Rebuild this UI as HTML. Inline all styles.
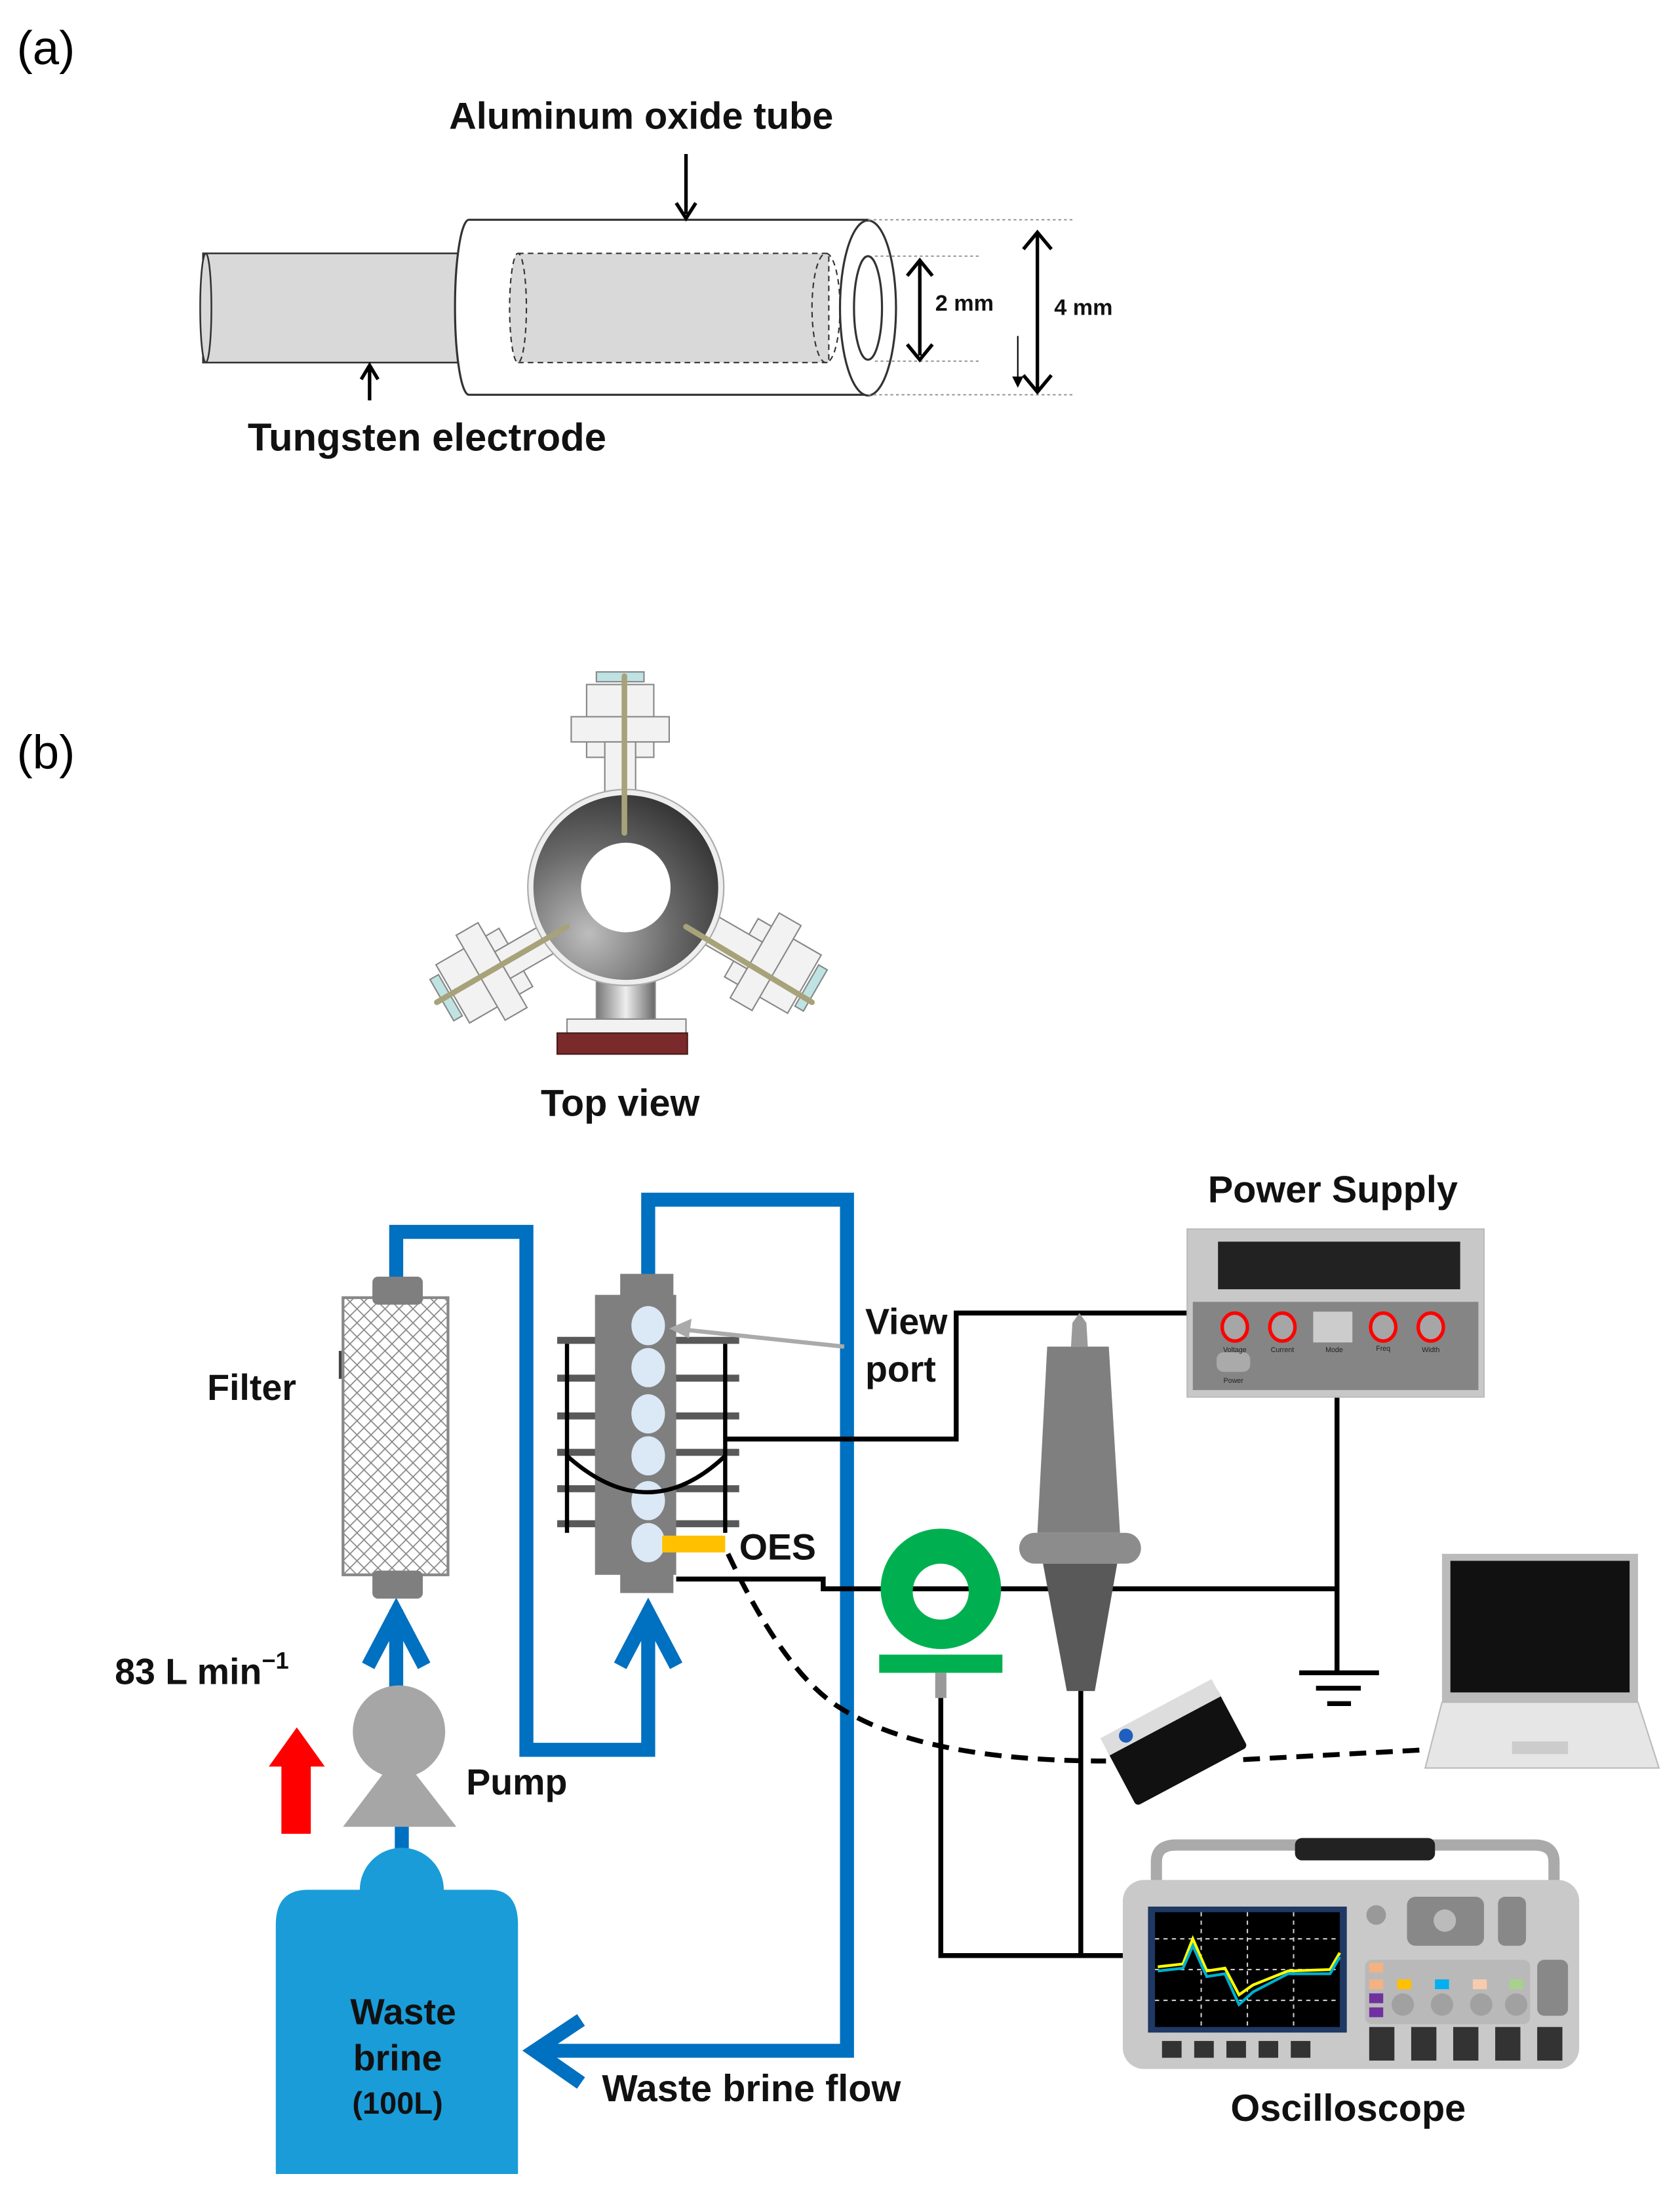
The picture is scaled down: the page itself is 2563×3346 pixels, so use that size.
<!DOCTYPE html>
<html><head><meta charset="utf-8"><style>html,body{margin:0;padding:0;background:#fff}svg{display:block}</style></head>
<body>
<svg xmlns="http://www.w3.org/2000/svg" width="2563" height="3346" viewBox="0 0 1200 1566.6" font-family="Liberation Sans, sans-serif">
<defs>
<pattern id="hatch" width="10" height="10" patternUnits="userSpaceOnUse">
<rect width="10" height="10" fill="#fff"/>
<path d="M0 0L10 10M10 0L0 10" stroke="#888" stroke-width="0.8"/>
</pattern>
<radialGradient id="ring" cx="0.3" cy="0.75" r="0.9">
<stop offset="0" stop-color="#bdbdbd"/><stop offset="0.5" stop-color="#6a6a6a"/><stop offset="1" stop-color="#2a2a2a"/>
</radialGradient>
<linearGradient id="neck" x1="0" x2="1"><stop offset="0" stop-color="#777"/><stop offset="0.5" stop-color="#eee"/><stop offset="1" stop-color="#666"/></linearGradient>
<marker id="ah" markerWidth="8" markerHeight="8" refX="7" refY="4" orient="auto" markerUnits="userSpaceOnUse"><path d="M0 0L8 4L0 8Z" fill="#000"/></marker>
</defs>
<rect width="1200" height="1566.6" fill="#fff"/>

<!-- (a) -->
<text x="12" y="46" font-size="34">(a)</text>
<rect x="145" y="181" width="190" height="78" fill="#d9d9d9" stroke="#333" stroke-width="1.2"/>
<ellipse cx="147" cy="220" rx="4" ry="39" fill="#d9d9d9" stroke="#333" stroke-width="1.2"/>
<path d="M335 157 L620 157 L620 282 L335 282 A10 62.5 0 0 1 335 157Z" fill="#fff" stroke="#333" stroke-width="1.5"/>
<rect x="370" y="181" width="222" height="78" fill="#d9d9d9" stroke="#333" stroke-width="1" stroke-dasharray="4 3"/>
<ellipse cx="370" cy="220" rx="6" ry="39" fill="#d9d9d9" stroke="#333" stroke-dasharray="4 3"/>
<ellipse cx="590" cy="220" rx="10" ry="39" fill="none" stroke="#333" stroke-dasharray="4 3"/>
<ellipse cx="620" cy="220" rx="20" ry="62.5" fill="#fff" stroke="#333" stroke-width="1.5"/>
<ellipse cx="620" cy="220" rx="10" ry="37" fill="#fff" stroke="#333" stroke-width="1.5"/>
<g stroke="#999" stroke-width="1" stroke-dasharray="2 2">
<line x1="620" y1="157" x2="767" y2="157"/><line x1="620" y1="282" x2="767" y2="282"/>
<line x1="625" y1="183" x2="700" y2="183"/><line x1="625" y1="258" x2="700" y2="258"/>
</g>
<g stroke="#000" stroke-width="2.5" fill="none">
<path d="M657 188 L657 254"/><path d="M648 197 L657 186 L666 197 M648 246 L657 257 L666 246"/>
<path d="M741 168 L741 278"/><path d="M731 178 L741 166 L751 178 M731 268 L741 280 L751 268"/>
<path d="M490 110 L490 153"/><path d="M483 145 L490 156 L497 145"/>
<path d="M264 286 L264 263"/><path d="M258 271 L264 261 L270 271"/>
</g>
<line x1="727" y1="240" x2="727" y2="276" stroke="#000" stroke-width="1" marker-end="url(#ah)"/>
<g font-weight="bold" fill="#111">
<text x="458" y="92" font-size="27" text-anchor="middle">Aluminum  oxide tube</text>
<text x="305" y="322" font-size="28" text-anchor="middle">Tungsten  electrode</text>
<text x="668" y="222" font-size="16">2 mm</text>
<text x="753" y="225" font-size="16">4 mm</text>
</g>

<!-- (b) -->
<text x="12" y="549" font-size="34">(b)</text>
<g>
<rect x="419" y="489" width="48" height="52" fill="#f2f2f2" stroke="#888"/>
<rect x="408" y="512" width="70" height="18" fill="#f2f2f2" stroke="#888"/>
<rect x="426" y="480" width="34" height="7" fill="#bfe3e3" stroke="#888"/>
<rect x="432" y="530" width="22" height="40" fill="#f2f2f2" stroke="#888"/>
<g transform="rotate(-120 447 634)">
<rect x="419" y="489" width="48" height="52" fill="#f2f2f2" stroke="#888"/>
<rect x="408" y="512" width="70" height="18" fill="#f2f2f2" stroke="#888"/>
<rect x="426" y="480" width="34" height="7" fill="#bfe3e3" stroke="#888"/>
<rect x="432" y="530" width="22" height="40" fill="#f2f2f2" stroke="#888"/>
</g>
<g transform="rotate(120 447 634)">
<rect x="419" y="489" width="48" height="52" fill="#f2f2f2" stroke="#888"/>
<rect x="408" y="512" width="70" height="18" fill="#f2f2f2" stroke="#888"/>
<rect x="426" y="480" width="34" height="7" fill="#bfe3e3" stroke="#888"/>
<rect x="432" y="530" width="22" height="40" fill="#f2f2f2" stroke="#888"/>
</g>
<rect x="426" y="690" width="42" height="48" fill="url(#neck)" stroke="#888"/>
<rect x="405" y="728" width="85" height="12" fill="#f2f2f2" stroke="#888"/>
<rect x="398" y="738" width="93" height="15" fill="#7a2a2a" stroke="#4a1a1a"/>
<circle cx="447" cy="634" r="70" fill="#eee" stroke="#aaa"/>
<circle cx="447" cy="634" r="66" fill="url(#ring)"/>
<circle cx="447" cy="634" r="32" fill="#fff"/>
<g stroke="#a8a27a" stroke-width="4" stroke-linecap="round">
<line x1="446" y1="483" x2="446" y2="595"/>
<line x1="312" y1="716" x2="405" y2="662"/>
<line x1="490" y1="662" x2="580" y2="716"/>
</g>
<text x="443" y="797" font-size="27" font-weight="bold" text-anchor="middle" fill="#111">Top view</text>
</g>

<!-- blue pipes -->
<g stroke="#0070c0" stroke-width="10" fill="none">
<path d="M283 915 L283 880 L376 880 L376 1250 L463 1250 L463 1160"/>
<path d="M463 915 L463 857 L605 857 L605 1465 L390 1465"/>
<path d="M283 1205 L283 1150"/>
<path d="M287 1330 L287 1300"/>
<path d="M263 1190 L283 1152 L303 1190"/>
<path d="M443 1190 L463 1152 L483 1190"/>
<path d="M415 1443 L382 1465 L415 1488"/>
</g>

<!-- filter -->
<rect x="245" y="927" width="75" height="198" fill="url(#hatch)" stroke="#888" stroke-width="2"/>
<rect x="266" y="912" width="36" height="20" rx="4" fill="#7f7f7f"/>
<rect x="266" y="1122" width="36" height="20" rx="4" fill="#7f7f7f"/>
<line x1="243" y1="965" x2="243" y2="985" stroke="#444" stroke-width="2"/>

<!-- reactor -->
<g fill="#595959">
<rect x="398" y="955" width="130" height="5"/><rect x="398" y="982" width="130" height="5"/>
<rect x="398" y="1009" width="130" height="5"/><rect x="398" y="1035" width="130" height="5"/>
<rect x="398" y="1061" width="130" height="5"/><rect x="398" y="1086" width="130" height="5"/>
</g>
<line x1="405" y1="960" x2="405" y2="1095" stroke="#000" stroke-width="3"/>
<line x1="518" y1="960" x2="518" y2="1095" stroke="#000" stroke-width="3"/>
<rect x="425" y="925" width="58" height="200" fill="#7f7f7f"/>
<rect x="443" y="910" width="38" height="16" fill="#7f7f7f"/>
<rect x="443" y="1124" width="38" height="14" fill="#7f7f7f"/>
<g fill="#dbe8f5">
<ellipse cx="463" cy="947" rx="12" ry="14"/><ellipse cx="463" cy="977" rx="12" ry="14"/>
<ellipse cx="463" cy="1010" rx="12" ry="14"/><ellipse cx="463" cy="1040" rx="12" ry="14"/>
<ellipse cx="463" cy="1072" rx="12" ry="14"/><ellipse cx="463" cy="1102" rx="12" ry="14"/>
</g>
<path d="M405 1040 Q463 1092 518 1040" stroke="#000" stroke-width="3" fill="none"/>
<rect x="473" y="1097" width="45" height="12" fill="#ffc000"/>
<line x1="603" y1="962" x2="490" y2="950" stroke="#aaa" stroke-width="3"/>
<path d="M478 949 L494 942 L492 956Z" fill="#aaa"/>

<!-- wires -->
<g stroke="#000" stroke-width="3.5" fill="none">
<path d="M518 1028 L683 1028 L683 938 L850 938"/>
<path d="M955 997 L955 1195"/>
<path d="M483 1128 L588 1128 L588 1135 L955 1135"/>
<path d="M672 1212 L672 1397 L805 1397"/>
<path d="M772 1205 L772 1397"/>
<path d="M928 1195 L985 1195 M940 1206 L972 1206 M948 1217 L965 1217"/>
</g>
<path d="M520 1110 Q560 1195 600 1220 Q660 1258 790 1258" stroke="#000" stroke-width="3.5" fill="none" stroke-dasharray="12 7"/>
<path d="M888 1257 L1018 1250" stroke="#000" stroke-width="3.5" fill="none" stroke-dasharray="12 7"/>

<!-- power supply -->
<rect x="848" y="878" width="212" height="120" fill="#c8c8c8" stroke="#bbb"/>
<rect x="870" y="887" width="173" height="34" fill="#222"/>
<rect x="852" y="930" width="204" height="63" fill="#858585"/>
<g fill="#a6a6a6" stroke="#f00" stroke-width="2.5">
<ellipse cx="882" cy="948" rx="9" ry="10"/><ellipse cx="916" cy="948" rx="9" ry="10"/>
<ellipse cx="988" cy="948" rx="9" ry="10"/><ellipse cx="1022" cy="948" rx="9" ry="10"/>
</g>
<rect x="938" y="937" width="28" height="22" fill="#ccc"/>
<rect x="869" y="966" width="24" height="14" rx="5" fill="#aaa"/>
<g font-size="5" fill="#222" text-anchor="middle">
<text x="882" y="966">Voltage</text><text x="916" y="966">Current</text><text x="953" y="966">Mode</text>
<text x="988" y="965">Freq</text><text x="1022" y="966">Width</text><text x="881" y="988">Power</text>
</g>

<!-- current probe -->
<path d="M672 1092 a43 43 0 1 0 0.1 0Z M672 1117 a20 20 0 1 1 -0.1 0Z" fill="#00b050" fill-rule="evenodd"/>
<rect x="628" y="1182" width="88" height="13" fill="#00b050"/>
<rect x="668" y="1195" width="8" height="18" fill="#999"/>

<!-- HV probe -->
<path d="M765 962 L766 945 L771 938 L776 945 L777 962Z" fill="#999"/>
<path d="M748 962 L792 962 L800 1095 L741 1095Z" fill="#7f7f7f"/>
<rect x="728" y="1095" width="87" height="22" rx="11" fill="#8c8c8c"/>
<path d="M745 1117 L798 1117 L782 1208 L762 1208Z" fill="#595959"/>

<!-- spectrometer -->
<g transform="rotate(-28 838 1248)">
<rect x="795" y="1225" width="90" height="48" rx="3" fill="#111"/>
<rect x="795" y="1218" width="90" height="14" fill="#ddd"/>
<circle cx="812" cy="1225" r="5" fill="#1f5fbf"/>
</g>

<!-- laptop -->
<rect x="1030" y="1110" width="140" height="106" fill="#bbb"/>
<rect x="1036" y="1115" width="128" height="94" fill="#111"/>
<path d="M1030 1216 L1170 1216 L1185 1263 L1018 1263Z" fill="#e6e6e6" stroke="#bbb"/>
<rect x="1080" y="1244" width="40" height="9" fill="#ccc"/>

<!-- oscilloscope -->
<path d="M826 1345 L826 1330 Q826 1318 840 1318 L1096 1318 Q1110 1318 1110 1330 L1110 1345" stroke="#aaa" stroke-width="8" fill="none"/>
<rect x="925" y="1313" width="100" height="16" rx="5" fill="#222"/>
<rect x="802" y="1343" width="326" height="135" rx="15" fill="#c9c9c9"/>
<rect x="820" y="1362" width="142" height="90" fill="#1f3864"/>
<rect x="825" y="1366" width="132" height="82" fill="#000"/>
<g stroke="#ccc" stroke-width="1" stroke-dasharray="3 3">
<line x1="825" y1="1385" x2="957" y2="1385"/><line x1="825" y1="1407" x2="957" y2="1407"/><line x1="825" y1="1429" x2="957" y2="1429"/>
<line x1="858" y1="1366" x2="858" y2="1448"/><line x1="891" y1="1366" x2="891" y2="1448"/><line x1="924" y1="1366" x2="924" y2="1448"/>
</g>
<path d="M827 1405 L845 1403 L852 1385 L862 1408 L875 1406 L885 1425 L895 1418 L920 1408 L950 1407 L957 1395" stroke="#ffff00" stroke-width="2" fill="none"/>
<path d="M827 1408 L845 1406 L852 1390 L862 1412 L875 1410 L885 1432 L895 1423 L920 1410 L950 1410 L957 1398" stroke="#00b0d0" stroke-width="2" fill="none"/>
<rect x="1005" y="1355" width="55" height="35" rx="6" fill="#888"/>
<circle cx="1032" cy="1372" r="8" fill="#bbb"/>
<circle cx="983" cy="1368" r="7" fill="#999"/>
<g fill="#999"><circle cx="1002" cy="1432" r="8"/><circle cx="1030" cy="1432" r="8"/><circle cx="1058" cy="1432" r="8"/><circle cx="1083" cy="1432" r="8"/></g>
<rect x="1070" y="1355" width="20" height="35" rx="5" fill="#888"/>
<rect x="975" y="1400" width="118" height="46" rx="5" fill="#aaa" opacity="0.5"/>
<g><rect x="978" y="1402" width="10" height="7" fill="#f4b183"/><rect x="978" y="1414" width="10" height="7" fill="#f4b183"/><rect x="978" y="1424" width="10" height="7" fill="#7030a0"/><rect x="978" y="1434" width="10" height="7" fill="#7030a0"/>
<rect x="998" y="1414" width="10" height="7" fill="#ffc000"/><rect x="1025" y="1414" width="10" height="7" fill="#00b0f0"/><rect x="1052" y="1414" width="10" height="7" fill="#f8cbad"/><rect x="1078" y="1414" width="10" height="7" fill="#a9d18e"/></g>
<g fill="#333"><rect x="978" y="1448" width="18" height="24"/><rect x="1008" y="1448" width="18" height="24"/><rect x="1038" y="1448" width="18" height="24"/><rect x="1068" y="1448" width="18" height="24"/><rect x="1098" y="1448" width="18" height="24"/>
<rect x="830" y="1458" width="14" height="12"/><rect x="853" y="1458" width="14" height="12"/><rect x="876" y="1458" width="14" height="12"/><rect x="899" y="1458" width="14" height="12"/><rect x="922" y="1458" width="14" height="12"/></g>
<rect x="1098" y="1400" width="22" height="40" rx="5" fill="#888"/>

<!-- tank -->
<path d="M257 1350 A30 30 0 0 1 317 1350 L350 1350 Q370 1350 370 1375 L370 1553 L197 1553 L197 1375 Q197 1350 220 1350Z" fill="#1a9cd8"/>
<circle cx="285" cy="1237" r="33" fill="#a6a6a6"/>
<path d="M285 1252 L326 1305 L245 1305Z" fill="#a6a6a6"/>
<rect x="201" y="1260" width="21" height="50" fill="#f00"/>
<path d="M192 1262 L232 1262 L212 1234Z" fill="#f00"/>

<!-- labels -->
<g font-weight="bold" fill="#111" font-size="26">
<text x="952" y="859" text-anchor="middle" font-size="27">Power Supply</text>
<text x="618" y="953">View</text>
<text x="618" y="987">port</text>
<text x="148" y="1000">Filter</text>
<text x="528" y="1114">OES</text>
<text x="82" y="1203">83  L  min<tspan font-size="17" dy="-11">−1</tspan></text>
<text x="333" y="1282">Pump</text>
<text x="430" y="1501" font-size="27">Waste brine flow</text>
<text x="963" y="1515" text-anchor="middle" font-size="27">Oscilloscope</text>
<text x="288" y="1446" text-anchor="middle">Waste</text>
<text x="284" y="1479" text-anchor="middle">brine</text>
<text x="284" y="1510" text-anchor="middle" font-size="22">(100L)</text>
</g>
</svg>
</body></html>
